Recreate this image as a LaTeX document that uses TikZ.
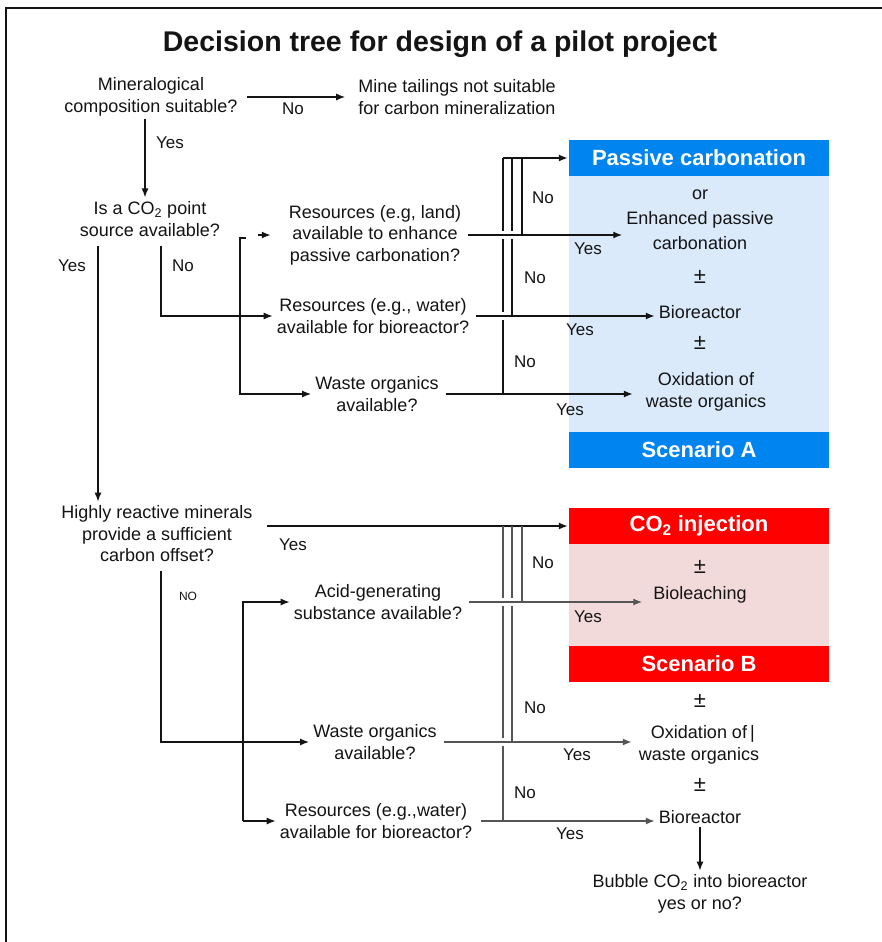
\documentclass[tikz,border=0pt]{standalone}
\usepackage{fontspec}
\setmainfont{Liberation Sans}
\usetikzlibrary{arrows.meta}
\definecolor{ablue}{RGB}{0,132,240}
\definecolor{alight}{RGB}{218,234,251}
\definecolor{bred}{RGB}{255,0,0}
\definecolor{blight}{RGB}{242,217,218}
\definecolor{ink}{RGB}{20,20,20}
\definecolor{gline}{RGB}{85,85,85}
\begin{document}
\begin{tikzpicture}[x=1pt,y=-1pt,
  txt/.style={font=\fontsize{18}{21.5}\selectfont, align=center, inner sep=1pt, text=ink},
  pmsign/.style={font=\fontsize{22}{24}\selectfont, inner sep=0pt, text=ink},
  lbl/.style={font=\fontsize{17}{20}\selectfont, inner sep=0pt, text=ink},
  hdr/.style={minimum width=260pt, minimum height=36pt, inner sep=0pt, text=white,
              font=\bfseries\fontsize{22}{24}\selectfont},
  ln/.style={draw=ink, line width=1.4pt},
  gln/.style={draw=gline, line width=1.4pt},
  arr/.style={ln, -{Latex[length=9pt,width=7pt]}, shorten >=3pt},
  garr/.style={gln, -{Latex[length=9pt,width=7pt]}, shorten >=3pt}]
\useasboundingbox (0,0) rectangle (882,942);
\fill[white] (0,0) rectangle (882,942);
\draw[line width=1.6pt, ink] (6,942) -- (6,8) -- (882,8);

\node[font=\bfseries\fontsize{28.5}{31}\selectfont, text=ink] (title) at (440,44) {Decision tree for design of a pilot project};

% scenario boxes
\fill[alight] (569,140) rectangle (829,468);
\node[hdr, fill=ablue] (hA) at (699,158) {Passive carbonation};
\node[hdr, fill=ablue] (fA) at (699,450) {Scenario A};
\fill[blight] (569,508) rectangle (829,682);
\node[hdr, fill=bred] (hB) at (699,526) {CO\textsubscript{2} injection};
\node[hdr, fill=bred] (fB) at (699,664) {Scenario B};

% nodes top half
\node[txt] (q1) at (151,97) {Mineralogical\\composition suitable?};
\node[txt] (r1) at (457,97) {Mine tailings not suitable\\for carbon mineralization};
\node[txt] (q2) at (150,219) {Is a CO\textsubscript{2} point\\source available?};
\node[txt] (r2) at (375,235) {Resources (e.g, land)\\available to enhance\\passive carbonation?};
\node[txt] (r3) at (373,316) {Resources (e.g., water)\\available for bioreactor?};
\node[txt] (r4) at (377,394) {Waste organics\\available?};
\node[txt, font=\fontsize{18}{25}\selectfont] (a1) at (700,220) {or\\Enhanced passive\\carbonation};
\node[pmsign] (pm1) at (700,277) {±};
\node[txt] (a2) at (700,312) {Bioreactor};
\node[pmsign] (pm2) at (700,343) {±};
\node[txt] (a3) at (706,392) {Oxidation of\\waste organics};

% nodes bottom half
\node[txt] (q3) at (157,534) {Highly reactive minerals\\provide a sufficient\\carbon offset?};
\node[txt] (s1) at (378,602) {Acid-generating\\substance available?};
\node[txt] (s2) at (375,742) {Waste organics\\available?};
\node[txt] (s3) at (376,821) {Resources (e.g.,water)\\available for bioreactor?};
\node[pmsign] (pm3) at (700,567) {±};
\node[txt] (b1) at (700,595) {Bioleaching};
\node[pmsign] (pm4) at (700,701) {±};
\node[txt] (b2) at (699,745) {Oxidation of\rlap{\,|}\\waste organics};
\node[pmsign] (pm5) at (700,785) {±};
\node[txt] (b3) at (700,817) {Bioreactor};
\node[txt] (b4) at (700,894) {Bubble CO\textsubscript{2} into bioreactor\\yes or no?};

% helper coordinates
\coordinate (c145) at (145,0);
\coordinate (xy) at (98,0);
\coordinate (xn) at (161,0);
\coordinate (k1) at (240,238);
\coordinate (k2) at (246,238);
\coordinate (v1) at (503,0);
\coordinate (v2) at (512,0);
\coordinate (v3) at (522,0);
\coordinate (tA) at (503,158);
\coordinate (yq) at (267,526);
\coordinate (bt) at (243,602);
\coordinate (bb) at (243,821);

% top connectors
\draw[arr, shorten <=8pt, shorten >=12pt] (q1) -- (r1);
\draw[arr, shorten <=2pt] (q1.south -| c145) -- (q2.north -| c145);
\draw[arr, shorten <=8pt] (q2.south -| xy) -- (q3.north -| xy);
\draw[arr, shorten <=8pt] (q2.south -| xn) |- (r3.west);
\draw[arr] (k2) -- (k1) |- (r4.west);
\draw[arr, shorten >=0pt] ([xshift=-30pt]r2.west) -- ([xshift=-17pt]r2.west);

\draw[arr, shorten <=6pt] (r2.east) -- (r2.east -| a1.west);
\draw[arr, shorten <=6pt] (r3.east) -- (r3.east -| a2.west);
\draw[arr, shorten <=6pt, shorten >=12pt] (r4.east) -- (r4.east -| a3.west);
\draw[ln] (tA) -- (503,231) (503,239) -- (503,312) (503,320) -- (r4.east -| v1);
\draw[ln] (512,158) -- (512,231) (512,239) -- (r3.east -| v2);
\draw[ln] (522,158) -- (r2.east -| v3);
\draw[arr, shorten >=1pt] (tA) -- (hA.west);

% bottom connectors
\draw[arr, shorten >=1pt] (yq) -- (yq -| hB.west);
\draw[arr, shorten <=8pt] (q3.south -| xn) |- (s2.west);
\draw[arr] (bb) -- (bt) -- (s1.west);
\draw[arr] (bb) -- (s3.west);
\draw[garr, shorten <=6pt, shorten >=10pt] (s1.east) -- (s1.east -| b1.west);
\draw[garr, shorten <=6pt, shorten >=6pt] (s2.east) -- (s2.east -| b2.west);
\draw[garr, shorten <=8pt] (s3.east) -- (s3.east -| b3.west);
\draw[gln] (503,526) -- (503,598) (503,606) -- (503,738) (503,746) -- (s3.east -| v1);
\draw[gln] (512,526) -- (512,598) (512,606) -- (s2.east -| v2);
\draw[gln] (522,526) -- (s1.east -| v3);
\draw[arr, shorten <=2pt] (b3) -- (b4);

% labels
\node[lbl] (l1) at (293,109) {No};
\node[lbl] (l2) at (170,143) {Yes};
\node[lbl] (l3) at (72,266) {Yes};
\node[lbl] (l4) at (183,266) {No};
\node[lbl] (l5) at (543,198) {No};
\node[lbl] (l6) at (535,278) {No};
\node[lbl] (l7) at (525,362) {No};
\node[lbl] (l8) at (588,249) {Yes};
\node[lbl] (l9) at (580,330) {Yes};
\node[lbl] (l10) at (570,410) {Yes};
\node[lbl] (l11) at (293,545) {Yes};
\node[lbl, font=\fontsize{12}{14}\selectfont] (l12) at (188,596) {NO};
\node[lbl] (l13) at (543,563) {No};
\node[lbl] (l14) at (535,708) {No};
\node[lbl] (l15) at (525,793) {No};
\node[lbl] (l16) at (588,617) {Yes};
\node[lbl] (l17) at (577,755) {Yes};
\node[lbl] (l18) at (570,834) {Yes};
\end{tikzpicture}
\end{document}
